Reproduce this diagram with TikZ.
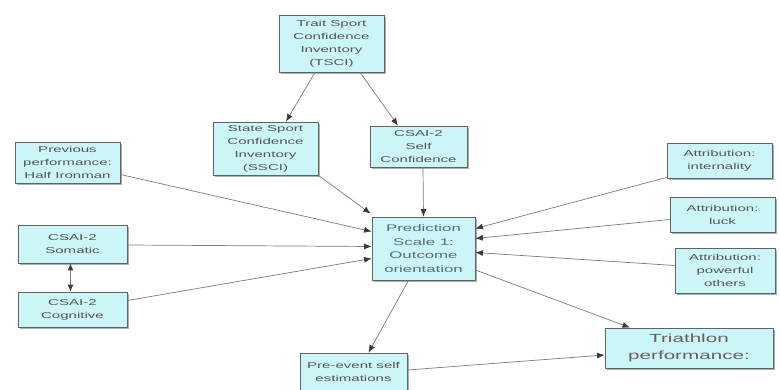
\documentclass[tikz,border=0pt]{standalone}
\usepackage{fontspec}
\setmainfont{Liberation Sans}[FakeStretch=1.75]
\usetikzlibrary{shadows,arrows.meta,calc}
\definecolor{boxfill}{HTML}{CCF5F7}
\definecolor{boxline}{HTML}{5A6666}
\definecolor{txt}{HTML}{555555}
\definecolor{txtb}{HTML}{557078}
\definecolor{txtc}{HTML}{6A5E5E}
\definecolor{linec}{HTML}{7A7A7A}
\definecolor{tipc}{HTML}{3A3A3A}
\begin{document}
\begin{tikzpicture}[x=1pt,y=-1pt,
  box/.style={draw=boxline, fill=boxfill, line width=0.8pt,
    drop shadow={shadow xshift=1.8pt, shadow yshift=-1.8pt, fill=gray!80, opacity=0.8},
    align=center, inner sep=1pt, text=txt, font=\fontsize{8.6}{13}\selectfont},
  bigbox/.style={box, text=txtb, font=\fontsize{9.6}{13.5}\selectfont},
  conn/.style={draw=linec, line width=0.7pt, -{Latex[length=7.5pt,width=6pt,color=tipc]}},
  dconn/.style={draw=linec, line width=0.9pt, {Latex[length=7pt,width=6pt,color=tipc]}-{Latex[length=7pt,width=6pt,color=tipc]}}
]
\fill[white] (0,0) rectangle (780,390);
\useasboundingbox (0,0) rectangle (780,390);

\node[box, minimum width=105pt, minimum height=57pt] (tsci) at (331.5,43.5)
  {Trait Sport\\Confidence\\Inventory\\(TSCI)};
\node[box, minimum width=105pt, minimum height=53pt] (ssci) at (265.5,148.5)
  {State Sport\\Confidence\\Inventory\\(SSCI)};
\node[box, minimum width=97pt, minimum height=41pt] (csc) at (418.5,146.5)
  {CSAI-2\\Self\\Confidence};
\node[box, minimum width=105pt, minimum height=41pt] (prev) at (67.5,162.5)
  {Previous\\performance:\\Half Ironman};
\node[box, minimum width=109pt, minimum height=38pt] (som) at (72.5,244)
  {CSAI-2\\Somatic};
\node[box, minimum width=109pt, minimum height=35pt] (cog) at (72.5,309.5)
  {CSAI-2\\Cognitive};
\node[bigbox, minimum width=103pt, minimum height=63pt] (pred) at (423.5,248.5)
  {Prediction\\Scale 1:\\Outcome\\orientation};
\node[box, minimum width=105pt, minimum height=35pt] (int) at (719.5,160.5)
  {Attribution:\\internality};
\node[box, minimum width=105pt, minimum height=35pt] (luck) at (722.5,214.5)
  {Attribution:\\luck};
\node[box, minimum width=100pt, minimum height=45pt] (pow) at (725,270.5)
  {Attribution:\\powerful\\others};
\node[box, text=txtc, font=\fontsize{11.8}{17}\selectfont, minimum width=168pt, minimum height=40pt] (tri) at (689,348)
  {Triathlon\\performance:};
\node[box, minimum width=107pt, minimum height=38pt] (pre) at (353.5,372)
  {Pre-event self\\estimations};

\draw[conn] ($(tsci.south)+(-16.5,0)$) -- ($(ssci.north)+(20.5,0)$);
\draw[conn] ($(tsci.south)+(28.5,0)$) -- ($(csc.north)+(-20.5,0)$);
\draw[conn] ($(csc.south)+(4.5,0)$) -- ($(pred.north)+(0,0)$);
\draw[conn] (ssci.south east) -- ($(pred.north west)+(-1,-3)$);
\draw[conn] ($(prev.east)+(0,12)$) -- ($(pred.west)+(0,-17)$);
\draw[conn] ($(som.east)+(0,1)$) -- ($(pred.west)+(0,-2)$);
\draw[conn] ($(cog.east)+(0,-9)$) -- ($(pred.west)+(0,10)$);
\draw[dconn] ($(som.south)+(-2,0)$) -- ($(cog.north)+(-2,0)$);
\draw[conn] ($(int.south west)+(0,-1)$) -- ($(pred.east)+(0,-20)$);
\draw[conn] ($(luck.west)+(0,5)$) -- ($(pred.east)+(0,-10)$);
\draw[conn] ($(pow.west)+(0,-5)$) -- ($(pred.east)+(0,4)$);
\draw[conn] ($(pred.south)+(-15,0)$) -- ($(pre.north)+(15,0)$);
\draw[conn] ($(pred.east)+(0,21.5)$) -- ($(tri.north)+(-59,0)$);
\draw[conn] ($(pre.east)+(0,-2)$) -- ($(tri.west)+(0,7)$);
\end{tikzpicture}
\end{document}
